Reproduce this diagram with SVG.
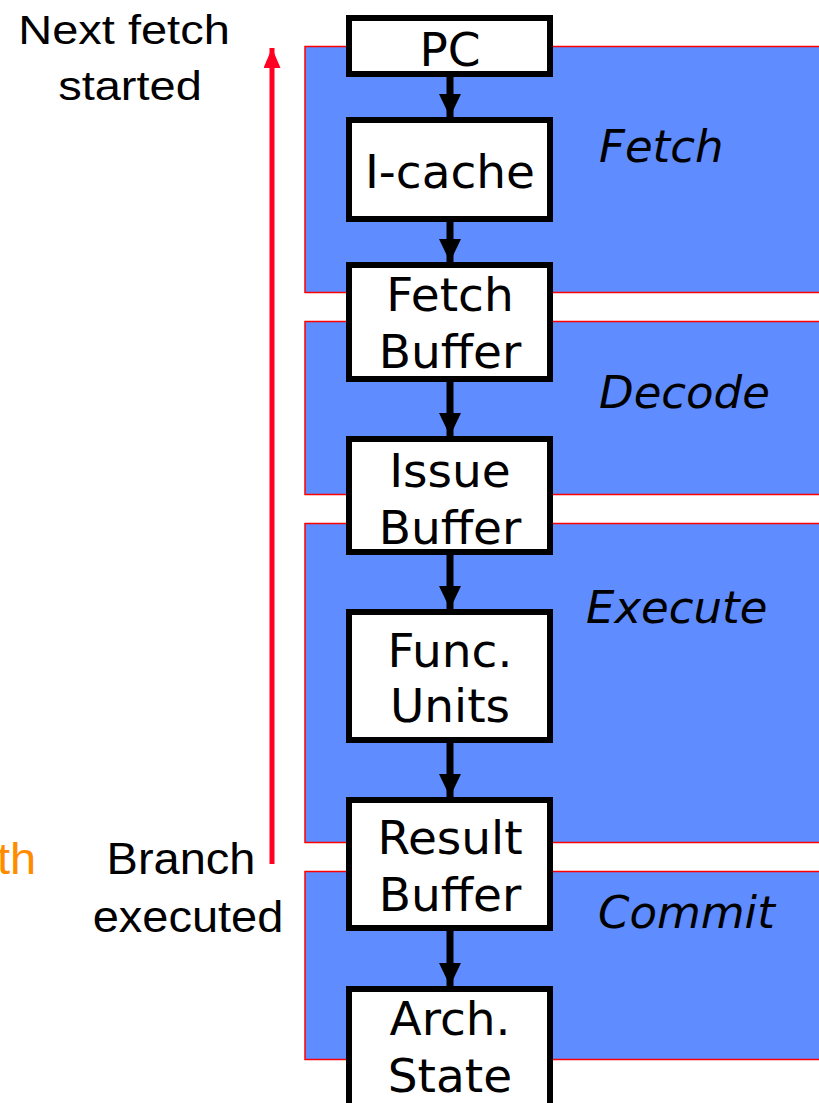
<svg xmlns="http://www.w3.org/2000/svg" width="819" height="1103" viewBox="0 0 819 1103">
<style>
.stage{fill:#5f8cff;stroke:#ff0000;stroke-width:1.5}
.box{fill:#ffffff;stroke:#000000;stroke-width:6}
.bt{font-family:"DejaVu Sans",Verdana,sans-serif;font-size:47px;fill:#000;text-anchor:middle}
.st{font-family:"DejaVu Sans",Verdana,sans-serif;font-size:45px;font-style:italic;fill:#000}
.lt{font-family:"Liberation Sans",Arial,sans-serif;font-size:47px;fill:#000;text-anchor:middle}
.shaft{stroke:#000;stroke-width:7}
</style>
<defs>
<marker id="ah" markerUnits="userSpaceOnUse" markerWidth="24" markerHeight="22" refX="23" refY="11" orient="auto">
<path d="M0,0 L23,11 L0,22 Z" fill="#000"/>
</marker>
<marker id="rh" markerUnits="userSpaceOnUse" markerWidth="20" markerHeight="18" refX="20" refY="8.5" orient="auto">
<path d="M0,0 L20,8.5 L0,17 Z" fill="#ff0022"/>
</marker>
</defs>
<g id="stages">
<g id="stage-fetch"><rect class="stage" x="305" y="46.5" width="530" height="246"/><text class="st" x="599" y="162">Fetch</text></g>
<g id="stage-decode"><rect class="stage" x="305" y="321.5" width="530" height="173"/><text class="st" x="599" y="408">Decode</text></g>
<g id="stage-execute"><rect class="stage" x="305" y="523.5" width="530" height="319"/><text class="st" x="586" y="623">Execute</text></g>
<g id="stage-commit"><rect class="stage" x="305" y="871.5" width="530" height="188"/><text class="st" x="598" y="928">Commit</text></g>
</g>
<g id="connectors">
<line class="shaft" x1="450" y1="77" x2="450" y2="117" marker-end="url(#ah)"/>
<line class="shaft" x1="450" y1="222" x2="450" y2="262" marker-end="url(#ah)"/>
<line class="shaft" x1="450" y1="382" x2="450" y2="436" marker-end="url(#ah)"/>
<line class="shaft" x1="450" y1="555" x2="450" y2="609" marker-end="url(#ah)"/>
<line class="shaft" x1="450" y1="743" x2="450" y2="797" marker-end="url(#ah)"/>
<line class="shaft" x1="450" y1="931" x2="450" y2="986" marker-end="url(#ah)"/>
<line x1="272" y1="864" x2="272" y2="48" stroke="#ff0022" stroke-width="5" marker-end="url(#rh)"/>
</g>
<g id="node-pc"><rect class="box" x="349" y="18" width="201" height="56"/><text class="bt" x="450" y="66">PC</text></g>
<g id="node-icache"><rect class="box" x="349" y="120" width="201" height="99"/><text class="bt" x="450" y="188">I-cache</text></g>
<g id="node-fetchbuf"><rect class="box" x="349" y="265" width="201" height="114"/><text class="bt" x="450" y="311">Fetch</text><text class="bt" x="450" y="368">Buffer</text></g>
<g id="node-issuebuf"><rect class="box" x="349" y="439" width="201" height="113"/><text class="bt" x="450" y="487">Issue</text><text class="bt" x="450" y="544">Buffer</text></g>
<g id="node-funcunits"><rect class="box" x="349" y="612" width="201" height="128"/><text class="bt" x="450" y="667">Func.</text><text class="bt" x="450" y="722">Units</text></g>
<g id="node-resultbuf"><rect class="box" x="349" y="800" width="201" height="128"/><text class="bt" x="450" y="854">Result</text><text class="bt" x="450" y="911">Buffer</text></g>
<g id="node-arch"><rect class="box" x="349" y="989" width="201" height="130"/><text class="bt" x="450" y="1035">Arch.</text><text class="bt" x="450" y="1092">State</text></g>
<g id="labels">
<text class="lt" transform="translate(124,44) scale(1,0.86)">Next fetch</text>
<text class="lt" transform="translate(130,100) scale(1,0.86)">started</text>
<text class="lt" transform="translate(181,874) scale(1,0.93)">Branch</text>
<text class="lt" transform="translate(188,932) scale(1,0.93)">executed</text>
<text class="lt" transform="translate(-3,874) scale(1,0.93)" style="text-anchor:start;fill:#ff8c00">th</text>
</g>
</svg>
